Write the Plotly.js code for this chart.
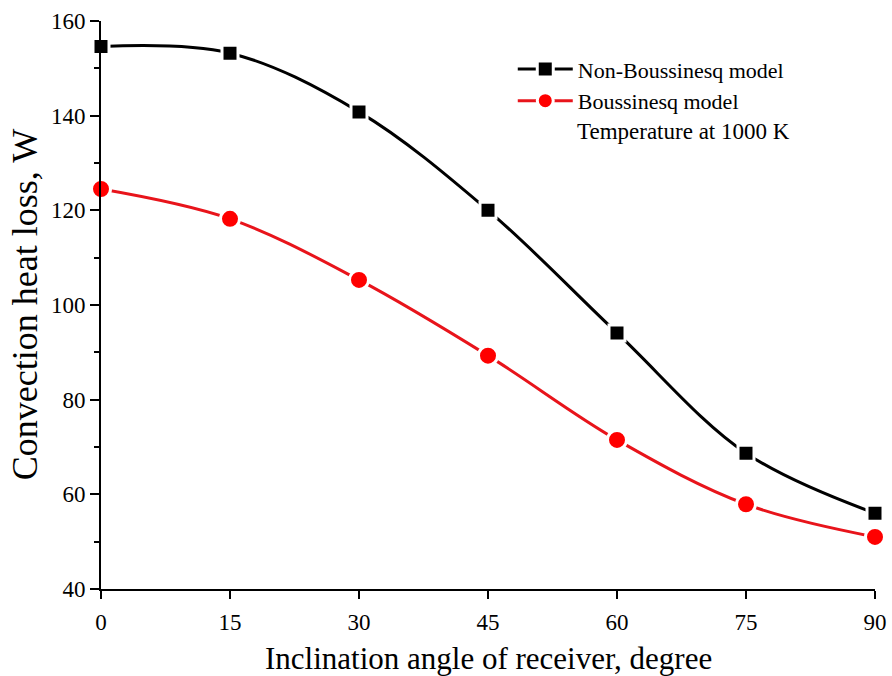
<!DOCTYPE html>
<html>
<head>
<meta charset="utf-8">
<script src="https://cdn.plot.ly/plotly-3.0.1.min.js"></script>
<style>html,body{margin:0;padding:0;background:#fff;}#chart{width:892px;height:676px;}</style>
</head>
<body>
<div id="chart"></div>
<script>
const angles = [0, 15, 30, 45, 60, 75, 90];
const nonBoussinesq = [154.6, 153.2, 140.8, 120.0, 94.1, 68.7, 56.0];
const boussinesq = [124.5, 118.2, 105.3, 89.3, 71.5, 57.9, 51.0];
const xTicks = [0, 15, 30, 45, 60, 75, 90];
const yTicks = [40, 60, 80, 100, 120, 140, 160];

const font = "Liberation Serif, Times New Roman, serif";

const traces = [
  {
    x: angles, y: nonBoussinesq, name: "Non-Boussinesq model",
    mode: "lines+markers", type: "scatter",
    line: {color: "#000000", width: 3, shape: "spline", smoothing: 1},
    marker: {symbol: "square", size: 16, color: "#000000", line: {color: "#ffffff", width: 3}},
    cliponaxis: false
  },
  {
    x: angles, y: boussinesq, name: "Boussinesq model",
    mode: "lines+markers", type: "scatter",
    line: {color: "#e8141b", width: 3, shape: "spline", smoothing: 1},
    marker: {symbol: "circle", size: 19, color: "#ff0000", line: {color: "#ffffff", width: 3}},
    cliponaxis: false
  }
];

const layout = {
  width: 892, height: 676,
  margin: {l: 101, r: 17, t: 21, b: 87},
  paper_bgcolor: "#ffffff", plot_bgcolor: "#ffffff",
  font: {family: font, color: "#000000", size: 23},
  showlegend: true,
  legend: {
    x: 0.532, y: 0.952, xanchor: "left", yanchor: "top",
    bgcolor: "rgba(0,0,0,0)", borderwidth: 0,
    font: {family: font, size: 22, color: "#000"},
    itemwidth: 55, tracegroupgap: 0
  },
  xaxis: {
    range: [0, 90], tickvals: xTicks, ticktext: xTicks.map(String),
    ticks: "outside", ticklen: 8, tickwidth: 2, tickcolor: "#000",
    showline: true, linewidth: 2, linecolor: "#000",
    showgrid: false, zeroline: false,
    tickfont: {family: font, size: 23}, ticklabelstandoff: 3
  },
  yaxis: {
    range: [40, 160], tickvals: yTicks, ticktext: yTicks.map(String),
    ticks: "outside", ticklen: 9, tickwidth: 2, tickcolor: "#000",
    minor: {dtick: 10, ticks: "outside", ticklen: 5, tickwidth: 2, tickcolor: "#000", showgrid: false},
    showline: true, linewidth: 2, linecolor: "#000",
    showgrid: false, zeroline: false,
    tickfont: {family: font, size: 23}
  },
  xaxis2: {
    overlaying: "x", side: "top", range: [0, 90], tickvals: xTicks,
    ticks: "inside", ticklen: 8, tickwidth: 2, tickcolor: "#000",
    showticklabels: false, showline: true, linewidth: 2, linecolor: "#000",
    showgrid: false, zeroline: false
  },
  yaxis2: {
    overlaying: "y", side: "right", range: [40, 160], tickvals: yTicks,
    ticks: "inside", ticklen: 9, tickwidth: 2, tickcolor: "#000",
    minor: {dtick: 10, ticks: "inside", ticklen: 5, tickwidth: 2, tickcolor: "#000", showgrid: false},
    showticklabels: false, showline: true, linewidth: 2, linecolor: "#000",
    showgrid: false, zeroline: false
  },
  annotations: [
    {
      xref: "paper", yref: "paper", x: 0.612, y: 0.806, xanchor: "left", yanchor: "middle",
      text: "Temperature at 1000 K", showarrow: false,
      font: {family: font, size: 23, color: "#000"}
    },
    {
      xref: "paper", yref: "paper", x: 0.5, y: -0.123, xanchor: "center", yanchor: "middle",
      text: "Inclination angle of receiver, degree", showarrow: false,
      font: {family: font, size: 31, color: "#000"}
    },
    {
      xref: "paper", yref: "paper", x: -0.098, y: 0.5, xanchor: "center", yanchor: "middle",
      text: "Convection heat loss, W", showarrow: false, textangle: -90,
      font: {family: font, size: 36, color: "#000"}
    }
  ]
};

Plotly.newPlot("chart", traces, layout, {displayModeBar: false, staticPlot: true});
</script>
</body>
</html>
